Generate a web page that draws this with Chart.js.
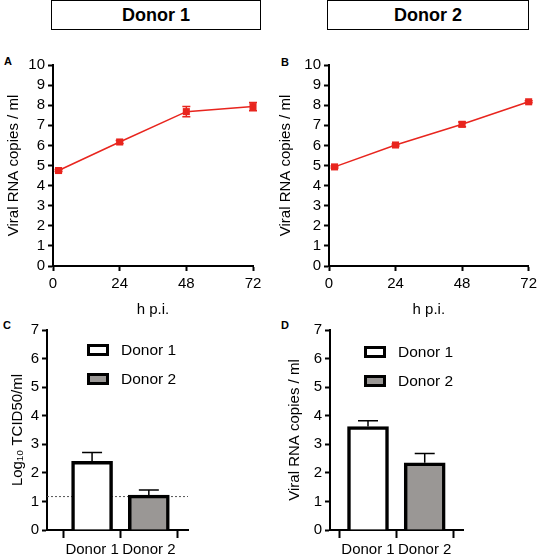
<!DOCTYPE html>
<html lang="en">
<head>
    <meta charset="UTF-8">
    <title>Viral RNA and TCID50 by donor</title>
    <script src="https://cdn.jsdelivr.net/npm/chart.js"></script>
    <style>
        body {
            margin: 0;
            width: 538px;
            height: 560px;
            position: relative;
            overflow: hidden;
            background: #ffffff;
            font-family: 'Liberation Sans', Arial, sans-serif;
            color: #000;
        }
        .box {
            position: absolute;
        }
        .header {
            position: absolute;
            box-sizing: border-box;
            border: 1.5px solid #000;
            font-weight: bold;
            font-size: 18px;
            display: flex;
            align-items: center;
            justify-content: center;
        }
        .letter {
            position: absolute;
            font-weight: bold;
            font-size: 11px;
        }
        .legend-item {
            position: absolute;
            font-size: 15.5px;
            display: flex;
            align-items: center;
            white-space: nowrap;
        }
        .swatch {
            box-sizing: border-box;
            width: 22px;
            height: 12px;
            border: 3.5px solid #000;
            margin-right: 12px;
        }
    </style>
</head>
<body>
    <div class="header" style="left:51px; top:0px; width:210px; height:30px;">Donor 1</div>
    <div class="header" style="left:327px; top:0px; width:202px; height:30px;">Donor 2</div>

    <div class="letter" style="left:4px; top:55px;">A</div>
    <div class="letter" style="left:281px; top:56px;">B</div>
    <div class="letter" style="left:3px; top:319px;">C</div>
    <div class="letter" style="left:281px; top:319px;">D</div>

    <div class="box" style="left:0px; top:53px; width:268px; height:267px;"><canvas id="chartA"></canvas></div>
    <div class="box" style="left:276px; top:53px; width:265px; height:267px;"><canvas id="chartB"></canvas></div>
    <div class="box" style="left:0px; top:315px; width:268px; height:245px;"><canvas id="chartC"></canvas></div>
    <div class="box" style="left:283px; top:315px; width:255px; height:245px;"><canvas id="chartD"></canvas></div>

    <!-- legends for the bar panels -->
    <div class="legend-item" style="left:87px; top:341px;"><div class="swatch" style="background:#fff"></div><span id="legC1"></span></div>
    <div class="legend-item" style="left:87px; top:370px;"><div class="swatch" style="background:#9a9795"></div><span id="legC2"></span></div>
    <div class="legend-item" style="left:364px; top:343px;"><div class="swatch" style="background:#fff"></div><span id="legD1"></span></div>
    <div class="legend-item" style="left:364px; top:372px;"><div class="swatch" style="background:#9a9795"></div><span id="legD2"></span></div>

    <script>
        // time course, log10 RNA copies / ml
        const hours = [2, 24, 48, 72];
        const donor1Rna = [4.75, 6.17, 7.68, 7.93];
        const donor1RnaErr = [0.05, 0.08, 0.25, 0.2];
        const donor2Rna = [4.93, 6.02, 7.05, 8.17];
        const donor2RnaErr = [0.05, 0.05, 0.12, 0.05];

        // bar panels
        const donorLabels = ['Donor 1', 'Donor 2'];
        const tcid50 = [2.40, 1.22];
        const tcid50Err = [0.31, 0.18];
        const detectionLimit = 1.17;
        const rnaBars = [3.62, 2.35];
        const rnaBarsErr = [0.2, 0.33];

        const RED = '#e8251e';
        const GREY = '#9a9795';

        Chart.defaults.font.family = "'Liberation Sans', Arial, sans-serif";
        Chart.defaults.color = '#000';
        Chart.defaults.animation = false;

        document.getElementById('legC1').textContent = donorLabels[0];
        document.getElementById('legC2').textContent = donorLabels[1];
        document.getElementById('legD1').textContent = donorLabels[0];
        document.getElementById('legD2').textContent = donorLabels[1];

        const errorBars = {
            id: 'errorBars',
            afterDatasetsDraw(chart) {
                const { ctx, scales: { x, y } } = chart;
                chart.data.datasets.forEach(ds => {
                    if (!ds.errors) return;
                    ctx.save();
                    ctx.strokeStyle = ds.errorColor;
                    ctx.lineWidth = 1.5;
                    ds.data.forEach((pt, i) => {
                        const e = ds.errors[i];
                        const px = x.getPixelForValue(pt.x);
                        const top = y.getPixelForValue(pt.y + e);
                        const bottom = ds.bothWays ? y.getPixelForValue(pt.y - e) : y.getPixelForValue(pt.y);
                        const half = ds.capWidth / 2;
                        ctx.beginPath();
                        ctx.moveTo(px, bottom);
                        ctx.lineTo(px, top);
                        ctx.moveTo(px - half, top);
                        ctx.lineTo(px + half, top);
                        if (ds.bothWays) {
                            ctx.moveTo(px - half, bottom);
                            ctx.lineTo(px + half, bottom);
                        }
                        ctx.stroke();
                    });
                    ctx.restore();
                });
            }
        };

        const limitLine = {
            id: 'limitLine',
            beforeDatasetsDraw(chart) {
                const { ctx, chartArea, scales: { y } } = chart;
                const py = y.getPixelForValue(detectionLimit);
                ctx.save();
                ctx.strokeStyle = '#555';
                ctx.lineWidth = 1;
                ctx.setLineDash([2, 2]);
                ctx.beginPath();
                ctx.moveTo(chartArea.left, py);
                ctx.lineTo(chartArea.right, py);
                ctx.stroke();
                ctx.restore();
            }
        };

        function axisStyle(tickLength, tickPadding) {
            return {
                grid: { drawOnChartArea: false, drawTicks: true, tickLength: tickLength, tickColor: '#000', tickWidth: 2 },
                border: { color: '#000', width: 2 },
                ticks: { color: '#000', font: { size: 15 }, padding: tickPadding, maxRotation: 0, autoSkip: false }
            };
        }

        function lineChart(id, values, errs, yTitlePad, padRight) {
            const xAxis = axisStyle(5, 4);
            xAxis.type = 'linear';
            xAxis.min = 0;
            xAxis.max = 72;
            xAxis.ticks.stepSize = 24;
            xAxis.title = { display: true, text: 'h p.i.', color: '#000', font: { size: 15 }, padding: { top: 0, bottom: 1 } };
            xAxis.afterFit = s => { s.height = 54; };

            const yAxis = axisStyle(5, 3);
            yAxis.min = 0;
            yAxis.max = 10;
            yAxis.ticks.stepSize = 1;
            yAxis.title = { display: true, text: 'Viral RNA copies / ml', color: '#000', font: { size: 15 }, padding: { top: yTitlePad, bottom: 0 } };
            yAxis.afterFit = s => { s.width = 53; };

            new Chart(document.getElementById(id), {
                type: 'scatter',
                data: {
                    datasets: [{
                        data: hours.map((h, i) => ({ x: h, y: values[i] })),
                        errors: errs,
                        bothWays: true,
                        errorColor: RED,
                        capWidth: 8,
                        showLine: true,
                        borderColor: RED,
                        borderWidth: 1.5,
                        backgroundColor: RED,
                        pointStyle: 'rect',
                        pointRadius: 5,
                        pointBorderWidth: 0,
                        clip: false
                    }]
                },
                options: {
                    responsive: true,
                    maintainAspectRatio: false,
                    layout: { padding: { top: 10, right: padRight, left: 0, bottom: 0 } },
                    plugins: { legend: { display: false }, tooltip: { enabled: false } },
                    scales: { x: xAxis, y: yAxis }
                },
                plugins: [errorBars]
            });
        }

        function barChart(id, values, errs, yTitle, yTitlePad, xMin, xMax, padRight, extra) {
            const xAxis = axisStyle(8, 3);
            xAxis.type = 'linear';
            xAxis.offset = false;
            xAxis.min = xMin;
            xAxis.max = xMax;
            xAxis.afterBuildTicks = s => { s.ticks = donorLabels.map((_, i) => ({ value: i + 1 })); };
            xAxis.ticks.callback = v => donorLabels[v - 1];
            xAxis.afterFit = s => { s.height = 30; };

            const yAxis = axisStyle(5, 3);
            yAxis.min = 0;
            yAxis.max = 7;
            yAxis.ticks.stepSize = 1;
            yAxis.title = { display: true, text: yTitle, color: '#000', font: { size: 15 }, padding: { top: yTitlePad, bottom: 0 } };
            yAxis.afterFit = s => { s.width = 47; };

            new Chart(document.getElementById(id), {
                type: 'bar',
                data: {
                    datasets: [{
                        data: values.map((v, i) => ({ x: i + 1, y: v })),
                        errors: errs,
                        bothWays: false,
                        errorColor: '#000',
                        capWidth: 20,
                        backgroundColor: ['#ffffff', GREY],
                        borderColor: '#000',
                        borderWidth: 3.5,
                        barThickness: 41
                    }]
                },
                options: {
                    responsive: true,
                    maintainAspectRatio: false,
                    layout: { padding: { top: 15, right: padRight, left: 0, bottom: 0 } },
                    plugins: { legend: { display: false }, tooltip: { enabled: false } },
                    scales: { x: xAxis, y: yAxis }
                },
                plugins: extra
            });
        }

        lineChart('chartA', donor1Rna, donor1RnaErr, 5, 15);
        lineChart('chartB', donor2Rna, donor2RnaErr, 1, 12);
        barChart('chartC', tcid50, tcid50Err, 'Log\u2081\u2080 TCID50/ml', 9, 0.206, 2.69, 80, [limitLine, errorBars]);
        barChart('chartD', rnaBars, rnaBarsErr, 'Viral RNA copies / ml', 3, 0.33, 2.675, 75, [errorBars]);
    </script>
</body>
</html>
